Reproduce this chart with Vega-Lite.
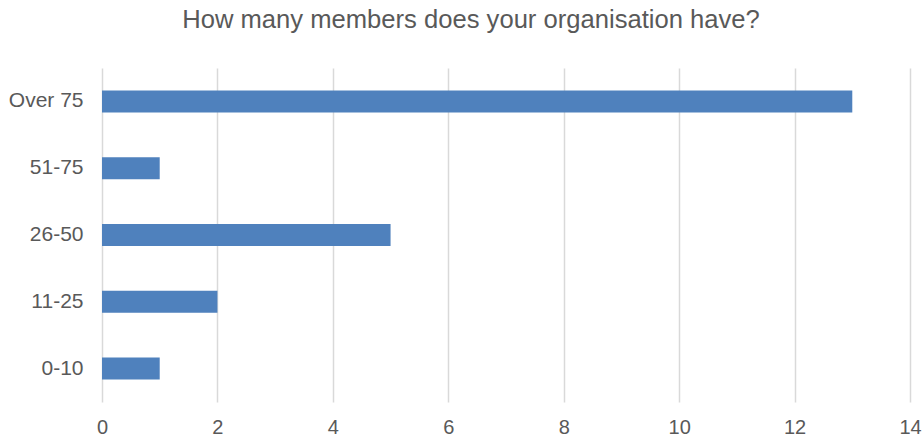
{
  "$schema": "https://vega.github.io/schema/vega-lite/v6.json",
  "width": 808,
  "height": 334,
  "autosize": {"type": "none"},
  "padding": {"left": 102, "top": 68, "right": 14, "bottom": 38},
  "background": "white",
  "title": {
    "text": "How many members does your organisation have?",
    "font": "Liberation Sans",
    "fontSize": 25.6,
    "fontWeight": "normal",
    "color": "#595959",
    "anchor": "middle",
    "offset": 22,
    "dx": -35,
    "baseline": "middle"
  },
  "data": {
    "values": [
      {"members": "Over 75", "count": 13},
      {"members": "51-75", "count": 1},
      {"members": "26-50", "count": 5},
      {"members": "11-25", "count": 2},
      {"members": "0-10", "count": 1}
    ]
  },
  "mark": {"type": "bar", "color": "#4f81bd"},
  "encoding": {
    "y": {
      "field": "members",
      "type": "nominal",
      "sort": ["Over 75", "51-75", "26-50", "11-25", "0-10"],
      "scale": {"paddingInner": 0.67, "paddingOuter": 0.335},
      "axis": {
        "title": null,
        "domain": false,
        "ticks": false,
        "labelFont": "Liberation Sans",
        "labelFontSize": 21,
        "labelColor": "#595959",
        "labelPadding": 19
      }
    },
    "x": {
      "field": "count",
      "type": "quantitative",
      "scale": {"domain": [0, 14], "nice": false},
      "axis": {
        "title": null,
        "domain": false,
        "ticks": false,
        "values": [0, 2, 4, 6, 8, 10, 12, 14],
        "labelOverlap": false,
        "labelFlush": false,
        "grid": true,
        "gridColor": "#d9d9d9",
        "gridWidth": 1.5,
        "labelFont": "Liberation Sans",
        "labelFontSize": 20,
        "labelColor": "#595959",
        "labelPadding": 15
      }
    }
  },
  "config": {"view": {"stroke": null}}
}
